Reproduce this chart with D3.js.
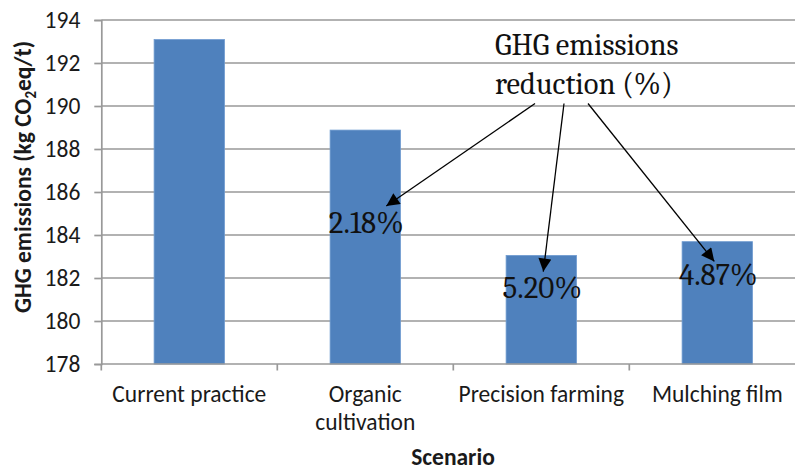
<!DOCTYPE html>
<html>
<head>
<meta charset="utf-8">
<script src="https://cdn.jsdelivr.net/npm/d3@7"></script>
<style>
  html, body { margin: 0; padding: 0; background: #fff; }
  svg { display: block; }
  .sans { font-family: Carlito, Lato, "Liberation Sans", sans-serif; }
  .serif { font-family: Caladea, "DejaVu Serif Condensed", "DejaVu Serif", serif; }
</style>
</head>
<body>
<div id="chart"></div>
<script>
// Scenarios and their GHG emissions (kg CO2eq per tonne)
const scenarios = ["Current practice", "Organic cultivation", "Precision farming", "Mulching film"];
const scenarioLines = [["Current practice"], ["Organic", "cultivation"], ["Precision farming"], ["Mulching film"]];
const emissions = [193.09, 188.88, 183.05, 183.69];
const yTicks = [178, 180, 182, 184, 186, 188, 190, 192, 194];
const calloutLines = ["GHG emissions", "reduction (%)"];

const W = 795, H = 471;
const margin = { left: 101.3, top: 20, bottom: 107 };
const sansSize = 23.5;

const svg = d3.select("#chart").append("svg")
  .attr("width", W).attr("height", H);

// Plot area runs past the right edge of the canvas
const x = d3.scaleBand()
  .domain(scenarios)
  .range([margin.left, margin.left + 704])
  .paddingInner(0.6)
  .paddingOuter(0.3);

const y = d3.scaleLinear()
  .domain([178, 194])
  .range([H - margin.bottom, margin.top]);

const gridColor = "#999999";

// Horizontal gridlines
svg.append("g").selectAll("line")
  .data(yTicks.slice(1))
  .join("line")
  .attr("x1", margin.left).attr("x2", W)
  .attr("y1", d => y(d)).attr("y2", d => y(d))
  .attr("stroke", gridColor).attr("stroke-width", 1.7);

// Bars
svg.append("g").selectAll("rect")
  .data(scenarios)
  .join("rect")
  .attr("x", d => x(d))
  .attr("width", x.bandwidth())
  .attr("y", (d, i) => y(emissions[i]))
  .attr("height", (d, i) => y(178) - y(emissions[i]))
  .attr("fill", "#4f81bd")
  .attr("stroke", "#6f9bd0").attr("stroke-width", 0.8);

// Y axis
const yAxis = d3.axisLeft(y).tickValues(yTicks).tickSize(7).tickPadding(14);
const gy = svg.append("g")
  .attr("transform", `translate(${margin.left},0)`)
  .call(yAxis);
gy.select(".domain").attr("stroke", gridColor).attr("stroke-width", 1.7);
gy.selectAll(".tick line").attr("stroke", gridColor).attr("stroke-width", 1.7);
gy.selectAll(".tick text")
  .attr("class", "sans")
  .attr("font-size", sansSize)
  .attr("fill", "#1a1a1a");

// X axis: baseline plus category boundary ticks
const step = x.step();
const x0 = margin.left;
svg.append("line")
  .attr("x1", x0).attr("x2", W)
  .attr("y1", y(178)).attr("y2", y(178))
  .attr("stroke", gridColor).attr("stroke-width", 1.7);
svg.append("g").selectAll("line")
  .data(d3.range(scenarios.length + 1))
  .join("line")
  .attr("x1", i => x0 + i * step).attr("x2", i => x0 + i * step)
  .attr("y1", y(178)).attr("y2", y(178) + 6.5)
  .attr("stroke", gridColor).attr("stroke-width", 1.7);

// Category labels
const xl = svg.append("g").attr("class", "sans")
  .attr("font-size", sansSize).attr("fill", "#1a1a1a")
  .attr("text-anchor", "middle");
scenarios.forEach((s, i) => {
  const cx = x(s) + x.bandwidth() / 2;
  const t = xl.append("text").attr("x", cx).attr("y", 401.7);
  scenarioLines[i].forEach((line, j) => {
    t.append("tspan")
      .attr("x", cx)
      .attr("dy", j === 0 ? 0 : 28.5)
      .text(line);
  });
});

// Axis titles
svg.append("text")
  .attr("class", "sans")
  .attr("x", 453)
  .attr("y", 465)
  .attr("text-anchor", "middle")
  .attr("font-size", sansSize).attr("font-weight", "bold")
  .attr("fill", "#1a1a1a")
  .text("Scenario");

const yTitle = svg.append("text")
  .attr("class", "sans")
  .attr("transform", "translate(31,177) rotate(-90)")
  .attr("text-anchor", "middle")
  .attr("font-size", sansSize).attr("font-weight", "bold")
  .attr("fill", "#1a1a1a");
yTitle.append("tspan").text("GHG emissions (kg CO");
yTitle.append("tspan").attr("font-size", 15).attr("dy", 4.5).text("2");
yTitle.append("tspan").attr("dy", -4.5).text("eq/t)");

// Reduction callout
const defs = svg.append("defs");
defs.append("marker")
  .attr("id", "head")
  .attr("viewBox", "0 0 10 10")
  .attr("refX", 10).attr("refY", 5)
  .attr("markerWidth", 16).attr("markerHeight", 13)
  .attr("markerUnits", "userSpaceOnUse")
  .attr("orient", "auto")
  .append("path")
  .attr("d", "M0,0 L10,5 L0,10 Z")
  .attr("fill", "#000");

const callout = svg.append("g").attr("class", "serif")
  .attr("font-size", 30.5).attr("fill", "#111");
calloutLines.forEach((line, j) => {
  callout.append("text")
    .attr("x", 495).attr("y", 55 + j * 39)
    .text(line);
});

const base = emissions[0];
const reductions = emissions.map(v => ((base - v) / base * 100).toFixed(2) + "%");

// label placement per reduced scenario: baseline in axis units, arrow tip offset
const labelLayout = [
  { i: 1, labelAt: 184.08, tipDx: 21, tipAt: 185.35, fromX: 535 },
  { i: 2, labelAt: 181.06, tipDx: 2, tipAt: 182.30, fromX: 564 },
  { i: 3, labelAt: 181.67, tipDx: -3, tipAt: 182.77, fromX: 588 }
];

labelLayout.forEach(L => {
  const cx = x(scenarios[L.i]) + x.bandwidth() / 2;
  svg.append("line")
    .attr("x1", L.fromX).attr("y1", 103.5)
    .attr("x2", cx + L.tipDx).attr("y2", y(L.tipAt))
    .attr("stroke", "#000").attr("stroke-width", 1.3)
    .attr("marker-end", "url(#head)");
  svg.append("text")
    .attr("class", "serif")
    .attr("x", cx + 1).attr("y", y(L.labelAt))
    .attr("text-anchor", "middle")
    .attr("font-size", 31).attr("fill", "#111")
    .text(reductions[L.i]);
});
</script>
</body>
</html>
